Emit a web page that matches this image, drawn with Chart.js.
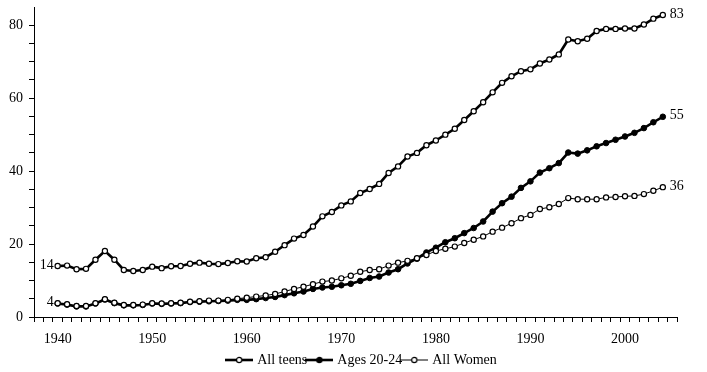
<!DOCTYPE html>
<html>
<head>
<meta charset="utf-8">
<script src="https://cdn.jsdelivr.net/npm/chart.js@4.4.1/dist/chart.umd.min.js"></script>
<style>
  body { margin: 0; background: #fff; }
  canvas { display: block; }
</style>
</head>
<body>
<canvas id="chart" width="707" height="372"></canvas>
<script>
// data
const years = [
  1940, 1941, 1942, 1943, 1944, 1945, 1946, 1947, 1948, 1949,
  1950, 1951, 1952, 1953, 1954, 1955, 1956, 1957, 1958, 1959,
  1960, 1961, 1962, 1963, 1964, 1965, 1966, 1967, 1968, 1969,
  1970, 1971, 1972, 1973, 1974, 1975, 1976, 1977, 1978, 1979,
  1980, 1981, 1982, 1983, 1984, 1985, 1986, 1987, 1988, 1989,
  1990, 1991, 1992, 1993, 1994, 1995, 1996, 1997, 1998, 1999,
  2000, 2001, 2002, 2003, 2004
];
const allTeens = [
  14.0, 14.1, 13.1, 13.2, 15.7, 18.1, 15.7, 12.9, 12.6, 12.9,
  13.8, 13.4, 13.9, 14.0, 14.6, 14.9, 14.6, 14.5, 14.8, 15.3,
  15.2, 16.1, 16.4, 17.9, 19.7, 21.5, 22.5, 24.8, 27.6, 28.8,
  30.6, 31.7, 34.0, 35.1, 36.5, 39.5, 41.3, 44.0, 45.0, 47.1,
  48.4, 50.0, 51.6, 54.0, 56.4, 58.9, 61.6, 64.2, 66.0, 67.4,
  67.9, 69.5, 70.6, 72.0, 76.1, 75.6, 76.3, 78.4, 79.0, 79.0,
  79.1, 79.1, 80.2, 81.8, 82.8
];
const ages2024 = [
  3.7, 3.4, 2.9, 2.9, 3.7, 4.8, 3.8, 3.2, 3.2, 3.3,
  3.7, 3.6, 3.7, 3.8, 4.1, 4.2, 4.3, 4.4, 4.5, 4.7,
  4.7, 4.9, 5.2, 5.5, 6.0, 6.5, 7.0, 7.7, 8.1, 8.3,
  8.7, 9.1, 9.9, 10.7, 11.1, 12.2, 13.1, 14.7, 16.0, 17.7,
  19.0, 20.5, 21.6, 23.0, 24.4, 26.2, 28.9, 31.2, 33.0, 35.4,
  37.2, 39.6, 40.8, 42.2, 45.1, 44.8, 45.7, 46.8, 47.7, 48.6,
  49.5, 50.5, 51.8, 53.4, 54.9
];
const allWomen = [
  3.8, 3.5, 3.0, 3.0, 3.8, 4.9, 3.9, 3.3, 3.3, 3.4,
  3.8, 3.7, 3.8, 3.9, 4.2, 4.3, 4.5, 4.5, 4.7, 5.0,
  5.3, 5.6, 5.9, 6.3, 7.0, 7.7, 8.3, 9.0, 9.7, 10.0,
  10.6, 11.3, 12.4, 12.9, 13.1, 14.1, 14.9, 15.4, 16.1, 17.0,
  18.1, 18.7, 19.3, 20.3, 21.2, 22.1, 23.4, 24.5, 25.7, 27.1,
  28.0, 29.6, 30.1, 31.0, 32.6, 32.3, 32.3, 32.3, 32.8, 32.9,
  33.1, 33.2, 33.7, 34.6, 35.6
];
const seriesNames = ["All teens", "Ages 20-24", "All Women"];
const xTickLabels = [1940, 1950, 1960, 1970, 1980, 1990, 2000];
const yTickLabels = [0, 20, 40, 60, 80];
const startLabelSeries = [0, 2]; // series that get a value label at the left end

const FONT = '"Liberation Serif", "Times New Roman", serif';
Chart.defaults.font.family = FONT;
Chart.defaults.font.size = 14;
Chart.defaults.color = "#000";

function toPoints(vals) {
  return vals.map((v, i) => ({ x: years[i], y: v }));
}

// little line+marker pictures for the legend
function legendIcon(lineW, filled) {
  const c = document.createElement("canvas");
  c.width = 28; c.height = 10;
  const g = c.getContext("2d");
  g.strokeStyle = "#000";
  g.lineWidth = lineW;
  g.beginPath(); g.moveTo(0, 5); g.lineTo(28, 5); g.stroke();
  g.beginPath(); g.arc(14, 5, 2.6, 0, Math.PI * 2);
  g.fillStyle = filled ? "#000" : "#fff";
  g.fill();
  g.lineWidth = 1.2;
  g.stroke();
  return c;
}
const legendIcons = [legendIcon(2.6, false), legendIcon(2.6, true), legendIcon(1, false)];

const valueLabels = {
  id: "valueLabels",
  afterDatasetsDraw(chart) {
    const ctx = chart.ctx;
    ctx.save();
    ctx.font = "14px " + FONT;
    ctx.fillStyle = "#000";
    ctx.textBaseline = "middle";
    chart.data.datasets.forEach((ds, i) => {
      const pts = chart.getDatasetMeta(i).data;
      const last = pts[pts.length - 1];
      ctx.textAlign = "left";
      ctx.fillText(String(Math.round(ds.data[ds.data.length - 1].y)), last.x + 7, last.y - 1);
      if (startLabelSeries.includes(i)) {
        const first = pts[0];
        ctx.textAlign = "right";
        ctx.fillText(String(Math.round(ds.data[0].y)), first.x - 4, first.y - 1);
      }
    });
    ctx.restore();
  }
};

// nudge the legend a bit right and down, like the original
const legendShift = {
  id: "legendShift",
  afterLayout(chart) {
    chart.legend.left += 7;
    chart.legend.right += 7;
    chart.legend.top += 5;
    chart.legend.bottom += 5;
  }
};

new Chart(document.getElementById("chart"), {
  type: "line",
  data: {
    datasets: [
      {
        label: seriesNames[0], data: toPoints(allTeens), order: 0,
        borderColor: "#000", borderWidth: 2.6,
        pointRadius: 2.6, pointBorderWidth: 1.2,
        pointBackgroundColor: "#fff", pointBorderColor: "#000"
      },
      {
        label: seriesNames[1], data: toPoints(ages2024), order: 2,
        borderColor: "#000", borderWidth: 2.6,
        pointRadius: 2.8, pointBorderWidth: 1,
        pointBackgroundColor: "#000", pointBorderColor: "#000"
      },
      {
        label: seriesNames[2], data: toPoints(allWomen), order: 1,
        borderColor: "#000", borderWidth: 1,
        pointRadius: 2.6, pointBorderWidth: 1.2,
        pointBackgroundColor: "#fff", pointBorderColor: "#000"
      }
    ]
  },
  options: {
    responsive: false,
    animation: false,
    events: [],
    layout: { padding: { top: 7, right: 30, left: 0, bottom: 0 } },
    scales: {
      x: {
        type: "linear",
        min: 1937.5,
        max: 2005.5,
        afterFit: s => { s.height = 30; },
        border: { display: true, color: "#000", width: 1 },
        grid: {
          drawOnChartArea: false,
          tickLength: 5,
          tickWidth: 1,
          tickColor: c => (c.tick && c.tick.value % 1 !== 0) ? "#000" : "rgba(0,0,0,0)"
        },
        ticks: {
          stepSize: 0.5,
          autoSkip: false,
          maxRotation: 0,
          padding: 9,
          color: "#000",
          callback: v => xTickLabels.includes(v) ? String(v) : ""
        }
      },
      y: {
        min: 0,
        max: 85,
        afterFit: s => { s.width = 34; s.paddingTop = 0; s.paddingBottom = 0; },
        border: { display: true, color: "#000", width: 1 },
        grid: {
          drawOnChartArea: false,
          tickLength: 5,
          tickWidth: 1,
          tickColor: c => (c.tick && c.tick.value <= 80) ? "#000" : "rgba(0,0,0,0)"
        },
        ticks: {
          stepSize: 5,
          autoSkip: false,
          padding: 6,
          color: "#000",
          callback: v => yTickLabels.includes(v) ? String(v) : ""
        }
      }
    },
    plugins: {
      tooltip: { enabled: false },
      legend: {
        position: "bottom",
        fullSize: false,
        maxHeight: 25,
        labels: {
          usePointStyle: true,
          pointStyleWidth: 22,
          padding: 1,
          color: "#000",
          font: { size: 14 },
          generateLabels: chart => chart.data.datasets.map((ds, i) => ({
            text: ds.label,
            datasetIndex: i,
            pointStyle: legendIcons[i],
            fillStyle: "#000",
            strokeStyle: "#000",
            lineWidth: 0,
            hidden: false
          }))
        }
      }
    }
  },
  plugins: [valueLabels, legendShift]
});
</script>
</body>
</html>
